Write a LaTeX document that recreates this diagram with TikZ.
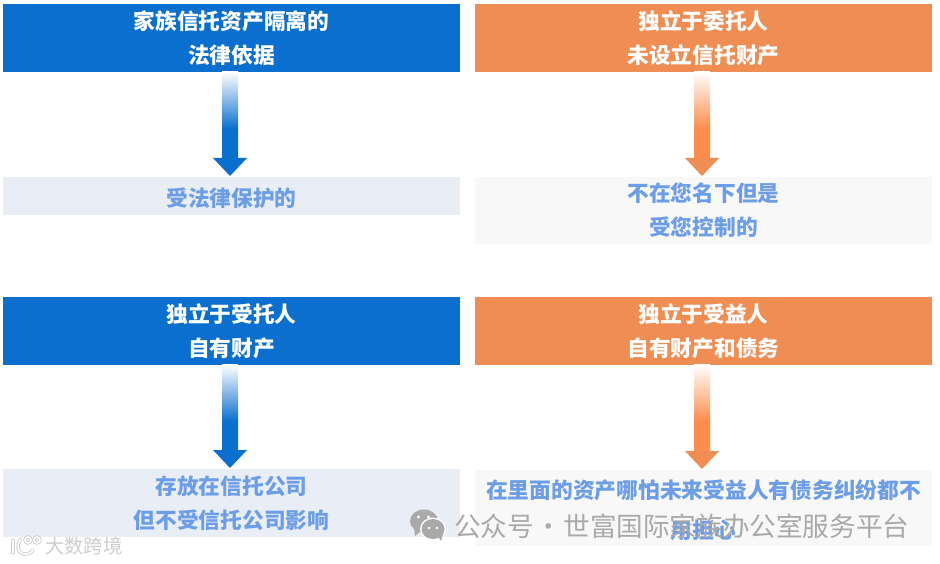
\documentclass[tikz,border=0pt]{standalone}
\usepackage{fontspec}
\setmainfont{Noto Sans CJK SC}
\usetikzlibrary{calc}
\definecolor{hblue}{HTML}{0A6FCE}
\definecolor{horange}{HTML}{F08D52}
\definecolor{ablue}{HTML}{0B6FD0}
\definecolor{aorange}{HTML}{FF8C4A}
\definecolor{pblue}{HTML}{E8EDF6}
\definecolor{pgray}{HTML}{F8F8F9}
\definecolor{tblue}{HTML}{6C9DE8}
\definecolor{wm}{HTML}{A9A9A9}
\definecolor{wmlight}{HTML}{CDCDCD}
\pgfdeclareverticalshading{bluefade}{100bp}{color(0bp)=(ablue); color(42bp)=(ablue); color(75bp)=(white); color(100bp)=(white)}
\pgfdeclareverticalshading{orangefade}{100bp}{color(0bp)=(aorange); color(42bp)=(aorange); color(75bp)=(white); color(100bp)=(white)}
\tikzset{
  x=1pt,y=-1pt,
  panel/.style={inner sep=0pt,outer sep=0pt,minimum width=457pt,align=center,
    font=\fontsize{21.7pt}{34pt}\selectfont\bfseries},
  headbox/.style={panel,minimum height=68pt,text=white},
  bluehead/.style={headbox,fill=hblue},
  orangehead/.style={headbox,fill=horange},
  bluebody/.style={panel,fill=pblue,text=tblue},
  graybody/.style={panel,fill=pgray,text=tblue},
  mark text/.style={inner sep=0pt,text=wm},
  logo under/.style={wmlight,line width=3.4pt,line cap=round},
  logo over/.style={white,line width=1.6pt,line cap=round},
}
% shaft and head of a flow arrow between two named boxes
\newcommand{\flowarrow}[4]{% from, to, fade shading, colour
  \shade[shading=#3]
    ($(#1.south)+(-9.5,0)$) -- ($(#1.south)+(6.5,0)$) --
    ($(#2.north)+(6.5,-19)$) -- ($(#2.north)+(-9.5,-19)$) -- cycle;
  \fill[#4]
    ($(#2.north)+(-18.5,-19)$) -- ($(#2.north)+(15.5,-19)$) --
    ($(#2.north)+(-1.5,-1)$) -- cycle;
}
\newcommand{\logostrokes}[1]{%
  \draw[#1] (13,540) -- (13,553);
  \draw[#1] (21,539) .. controls (16,545) and (17,555) .. (27,554) .. controls (30,553.5) and (32,552) .. (33,550);
  \draw[#1] (28,540) circle (3);
  \draw[#1] (37,540) circle (3);
}
\begin{document}
\begin{tikzpicture}
\useasboundingbox (0,0) rectangle (940,564);
\node[bluehead]   (a1) at (231.5,38)  {家族信托资产隔离的\\法律依据};
\node[orangehead] (b1) at (703.5,38)  {独立于委托人\\未设立信托财产};
\node[bluehead]   (a2) at (231.5,330.5) {\rule{0pt}{20.5pt}独立于受托人\\自有财产};
\node[orangehead] (b2) at (703.5,330.5) {\rule{0pt}{20.5pt}独立于受益人\\自有财产和债务};
\node[bluebody,minimum height=38pt]  (c1) at (231.5,196)  {\rule{0pt}{24pt}受法律保护的};
\node[graybody,minimum height=67pt]  (d1) at (703.5,210.5) {不在您名下但是\\受您控制的};
\node[bluebody,minimum height=68pt]  (c2) at (231.5,503)  {存放在信托公司\\但不受信托公司影响};
\node[graybody,minimum height=76pt,font=\fontsize{21.75pt}{40pt}\selectfont\bfseries] (d2) at (703.5,508) {\rule{0pt}{24pt}在里面的资产哪怕未来受益人有债务纠纷都不\\用担心};
\flowarrow{a1}{c1}{bluefade}{hblue}
\flowarrow{b1}{d1}{orangefade}{horange}
\flowarrow{a2}{c2}{bluefade}{hblue}
\flowarrow{b2}{d2}{orangefade}{horange}
% watermarks
\fill[wm] (424,521) ellipse (14 and 11.5);
\fill[wm] (415,536) -- (414,527) -- (421,531) -- cycle;
\fill[white] (418.5,517) circle (1.7);
\fill[white] (428.5,517) circle (1.7);
\fill[white] (433,529) ellipse (13 and 11.5);
\fill[wm] (433,529) ellipse (11.5 and 10);
\fill[wm] (441,541) -- (437,535) -- (443,534) -- cycle;
\fill[white] (429,528) circle (1.4);
\fill[white] (437,528) circle (1.4);
\node[mark text,anchor=west,font=\fontsize{26.6pt}{30pt}\selectfont] (wm1) at (454,526) {\spaceskip=1.5pt 公众号 · 世富国际家族办公室服务平台};
\node[mark text,anchor=west,text=wmlight,font=\fontsize{19.3pt}{22pt}\selectfont] (wm2) at (45,546.5) {大数跨境};
\logostrokes{logo under}
\logostrokes{logo over}
\end{tikzpicture}
\end{document}
